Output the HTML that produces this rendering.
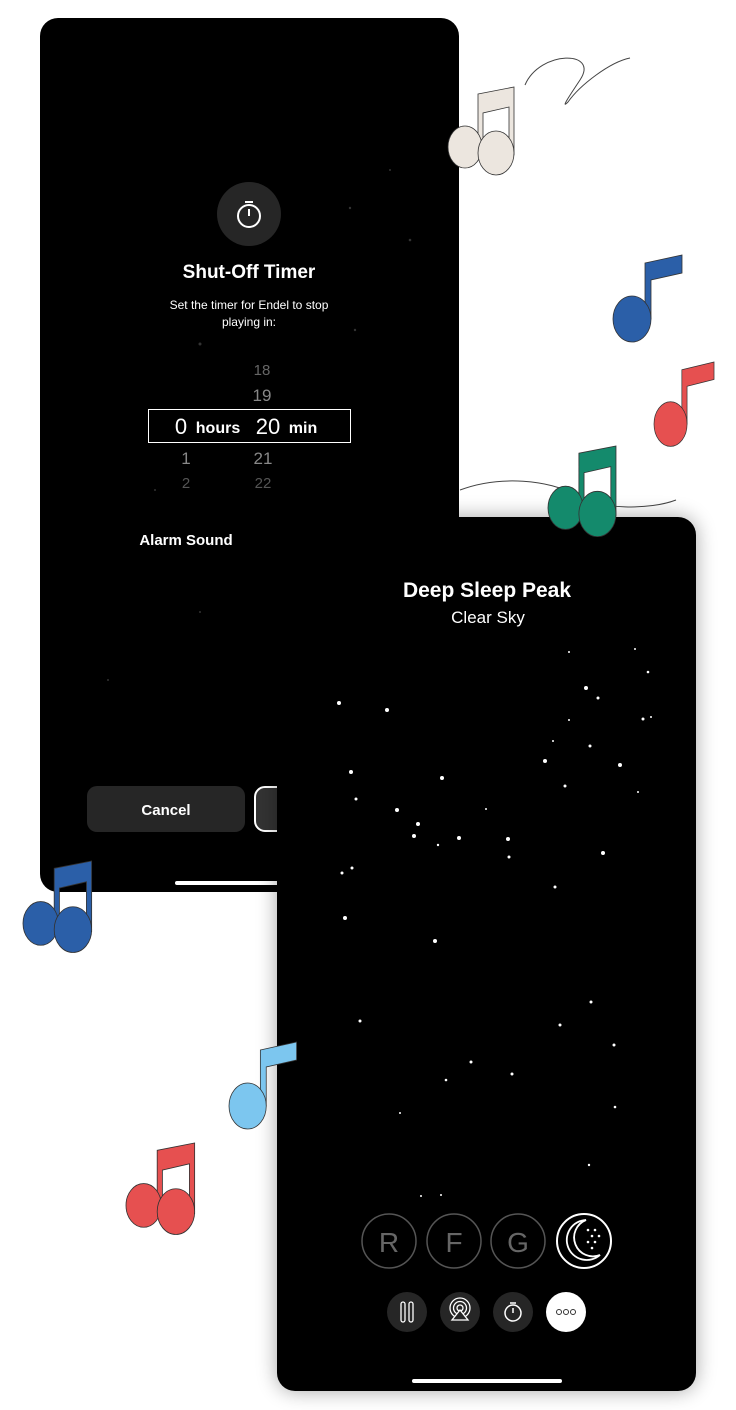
<!DOCTYPE html>
<html><head><meta charset="utf-8"><style>
html,body{margin:0;padding:0;background:#fff;}
svg{display:block;font-family:"Liberation Sans",sans-serif;}
</style></head><body>
<svg width="736" height="1410" viewBox="0 0 736 1410" xmlns="http://www.w3.org/2000/svg">
<defs>
<g id="dbl">
<polygon points="30,7 66,0 66,68 61,68 61,20 35,26 35,62 30,62" stroke="#333" stroke-width="0.8"/>
<ellipse cx="17" cy="60" rx="17" ry="21" stroke="#333" stroke-width="0.8"/>
<ellipse cx="48" cy="66" rx="18" ry="22" stroke="#333" stroke-width="0.8"/>
</g>
<g id="sgl">
<polygon points="32,8 69,0 69,18 38,25 38,64 32,64" stroke="#333" stroke-width="0.8"/>
<ellipse cx="19" cy="64" rx="19" ry="23" stroke="#333" stroke-width="0.8"/>
</g>
<filter id="sh" x="-20%" y="-20%" width="140%" height="140%"><feGaussianBlur stdDeviation="10"/></filter>
</defs>

<rect x="40" y="18" width="419" height="874" rx="18" fill="#000"/>
<circle cx="249" cy="214" r="32" fill="#262626"/>
<circle cx="249" cy="216" r="11" fill="none" stroke="#fff" stroke-width="2"/>
<line x1="249" y1="216" x2="249" y2="209" stroke="#fff" stroke-width="2"/>
<line x1="245" y1="202" x2="253" y2="202" stroke="#fff" stroke-width="2"/>
<text x="249" y="278" fill="#fff" font-size="19" font-weight="bold" text-anchor="middle">Shut-Off Timer</text>
<text x="249" y="309" fill="#fff" font-size="12" text-anchor="middle">Set the timer for Endel to stop</text>
<text x="249" y="326" fill="#fff" font-size="12" text-anchor="middle">playing in:</text>
<text x="262" y="375" fill="#666" font-size="15" text-anchor="middle">18</text>
<text x="262" y="401" fill="#888" font-size="17" text-anchor="middle">19</text>
<rect x="148.5" y="409.5" width="202" height="33" fill="none" stroke="#fff" stroke-width="1"/>
<text x="181" y="434" fill="#fff" font-size="22" text-anchor="middle">0</text>
<text x="218" y="433" fill="#fff" font-size="16" font-weight="bold" text-anchor="middle">hours</text>
<text x="268" y="434" fill="#fff" font-size="22" text-anchor="middle">20</text>
<text x="303" y="433" fill="#fff" font-size="16" font-weight="bold" text-anchor="middle">min</text>
<text x="186" y="464" fill="#888" font-size="17" text-anchor="middle">1</text>
<text x="263" y="464" fill="#888" font-size="17" text-anchor="middle">21</text>
<text x="186" y="488" fill="#555" font-size="15" text-anchor="middle">2</text>
<text x="263" y="488" fill="#555" font-size="15" text-anchor="middle">22</text>
<text x="186" y="545" fill="#fff" font-size="15" font-weight="bold" text-anchor="middle">Alarm Sound</text>
<rect x="87" y="786" width="158" height="46" rx="10" fill="#262626"/>
<text x="166" y="815" fill="#fff" font-size="15" font-weight="bold" text-anchor="middle">Cancel</text>
<rect x="255" y="787" width="60" height="44" rx="10" fill="#333" stroke="#fff" stroke-width="2"/>
<rect x="175" y="881" width="120" height="4" rx="2" fill="#fff"/>
<g fill="#333"><circle cx="200" cy="344" r="1.5"/><circle cx="350" cy="208" r="1.2"/><circle cx="410" cy="240" r="1.3"/><circle cx="355" cy="330" r="1.2"/><circle cx="155" cy="490" r="1"/><circle cx="200" cy="612" r="1"/><circle cx="108" cy="680" r="1"/><circle cx="390" cy="170" r="1"/></g>

<path d="M525,85 C540,50 600,50 580,80 C570,95 560,110 568,102 C580,85 610,62 630,58" fill="none" stroke="#444" stroke-width="1"/>
<path d="M460,490 C500,475 550,480 575,495 C600,510 650,510 676,500" fill="none" stroke="#444" stroke-width="1"/>

<rect x="277" y="517" width="419" height="874" rx="18" fill="#000" opacity="0.35" filter="url(#sh)"/>
<rect x="277" y="517" width="419" height="874" rx="18" fill="#000"/>
<text x="487" y="597" fill="#fff" font-size="21" font-weight="bold" text-anchor="middle">Deep Sleep Peak</text>
<text x="488" y="623" fill="#fff" font-size="17" text-anchor="middle">Clear Sky</text>
<g fill="#fff">
<circle cx="339" cy="703" r="2"/><circle cx="387" cy="710" r="2"/><circle cx="586" cy="688" r="2"/><circle cx="598" cy="698" r="1.5"/><circle cx="643" cy="719" r="1.5"/><circle cx="651" cy="717" r="1"/><circle cx="553" cy="741" r="1"/><circle cx="590" cy="746" r="1.5"/><circle cx="545" cy="761" r="2"/><circle cx="620" cy="765" r="2"/><circle cx="351" cy="772" r="2"/><circle cx="442" cy="778" r="2"/><circle cx="565" cy="786" r="1.5"/><circle cx="356" cy="799" r="1.5"/><circle cx="397" cy="810" r="2"/><circle cx="418" cy="824" r="2"/><circle cx="486" cy="809" r="1"/><circle cx="414" cy="836" r="2"/><circle cx="459" cy="838" r="2"/><circle cx="508" cy="839" r="2"/><circle cx="438" cy="845" r="1.2"/><circle cx="509" cy="857" r="1.5"/><circle cx="603" cy="853" r="2"/><circle cx="352" cy="868" r="1.5"/><circle cx="342" cy="873" r="1.5"/><circle cx="555" cy="887" r="1.5"/><circle cx="345" cy="918" r="2"/><circle cx="435" cy="941" r="2"/><circle cx="591" cy="1002" r="1.5"/><circle cx="360" cy="1021" r="1.5"/><circle cx="560" cy="1025" r="1.5"/><circle cx="614" cy="1045" r="1.5"/><circle cx="471" cy="1062" r="1.5"/><circle cx="512" cy="1074" r="1.5"/><circle cx="446" cy="1080" r="1.3"/><circle cx="615" cy="1107" r="1.3"/><circle cx="400" cy="1113" r="1"/><circle cx="569" cy="720" r="1"/><circle cx="648" cy="672" r="1.3"/><circle cx="635" cy="649" r="1"/><circle cx="569" cy="652" r="1"/><circle cx="638" cy="792" r="1"/><circle cx="589" cy="1165" r="1.2"/><circle cx="441" cy="1195" r="1"/><circle cx="421" cy="1196" r="1"/></g>
<g fill="none" stroke="#555" stroke-width="1.5">
<circle cx="389" cy="1241" r="27"/><circle cx="454" cy="1241" r="27"/><circle cx="518" cy="1241" r="27"/></g>
<text x="389" y="1252" fill="#666" font-size="28" text-anchor="middle">R</text>
<text x="454" y="1252" fill="#666" font-size="28" text-anchor="middle">F</text>
<text x="518" y="1252" fill="#666" font-size="28" text-anchor="middle">G</text>
<circle cx="584" cy="1241" r="27" fill="none" stroke="#fff" stroke-width="2"/>
<path d="M586,1220 A20,20 0 1 0 600,1255 A16,16 0 1 1 586,1220 Z" fill="none" stroke="#fff" stroke-width="1.8"/>
<g fill="#fff"><circle cx="588" cy="1230" r="1.3"/><circle cx="595" cy="1230" r="1.3"/><circle cx="592" cy="1236" r="1.3"/><circle cx="599" cy="1236" r="1.3"/><circle cx="588" cy="1242" r="1.3"/><circle cx="595" cy="1242" r="1.3"/><circle cx="592" cy="1248" r="1.3"/></g>
<circle cx="407" cy="1312" r="20" fill="#262626"/>
<rect x="401" y="1302" width="4" height="20" rx="2" fill="none" stroke="#fff" stroke-width="1.3"/>
<rect x="409" y="1302" width="4" height="20" rx="2" fill="none" stroke="#fff" stroke-width="1.3"/>
<circle cx="460" cy="1312" r="20" fill="#262626"/>
<g fill="none" stroke="#fff" stroke-width="1.3"><circle cx="460" cy="1308" r="3"/><circle cx="460" cy="1308" r="6.5"/><circle cx="460" cy="1308" r="10"/></g>
<polygon points="460,1310 452,1320 468,1320" fill="#262626" stroke="#fff" stroke-width="1.3"/>
<circle cx="513" cy="1312" r="20" fill="#262626"/>
<circle cx="513" cy="1313" r="8" fill="none" stroke="#fff" stroke-width="1.5"/>
<line x1="513" y1="1313" x2="513" y2="1308" stroke="#fff" stroke-width="1.5"/>
<line x1="510" y1="1303" x2="516" y2="1303" stroke="#fff" stroke-width="1.5"/>
<circle cx="566" cy="1312" r="20" fill="#fff"/>
<g fill="none" stroke="#333" stroke-width="1"><circle cx="559" cy="1312" r="2.5"/><circle cx="566" cy="1312" r="2.5"/><circle cx="573" cy="1312" r="2.5"/></g>
<rect x="412" y="1379" width="150" height="4" rx="2" fill="#fff"/>

<use href="#dbl" transform="translate(448,87)" fill="#ece6df"/>
<use href="#sgl" transform="translate(613,255)" fill="#2b5fa8"/>
<use href="#sgl" transform="translate(654,362) scale(0.87,0.97)" fill="#e65050"/>
<use href="#dbl" transform="translate(548,446) scale(1.03)" fill="#148a6c"/>
<use href="#dbl" transform="translate(23,861) scale(1.04)" fill="#2b5fa8"/>
<use href="#sgl" transform="translate(229,1042) scale(0.98,1.0)" fill="#7cc6ef"/>
<use href="#dbl" transform="translate(126,1143) scale(1.04)" fill="#e65050"/>
</svg>
</body></html>
